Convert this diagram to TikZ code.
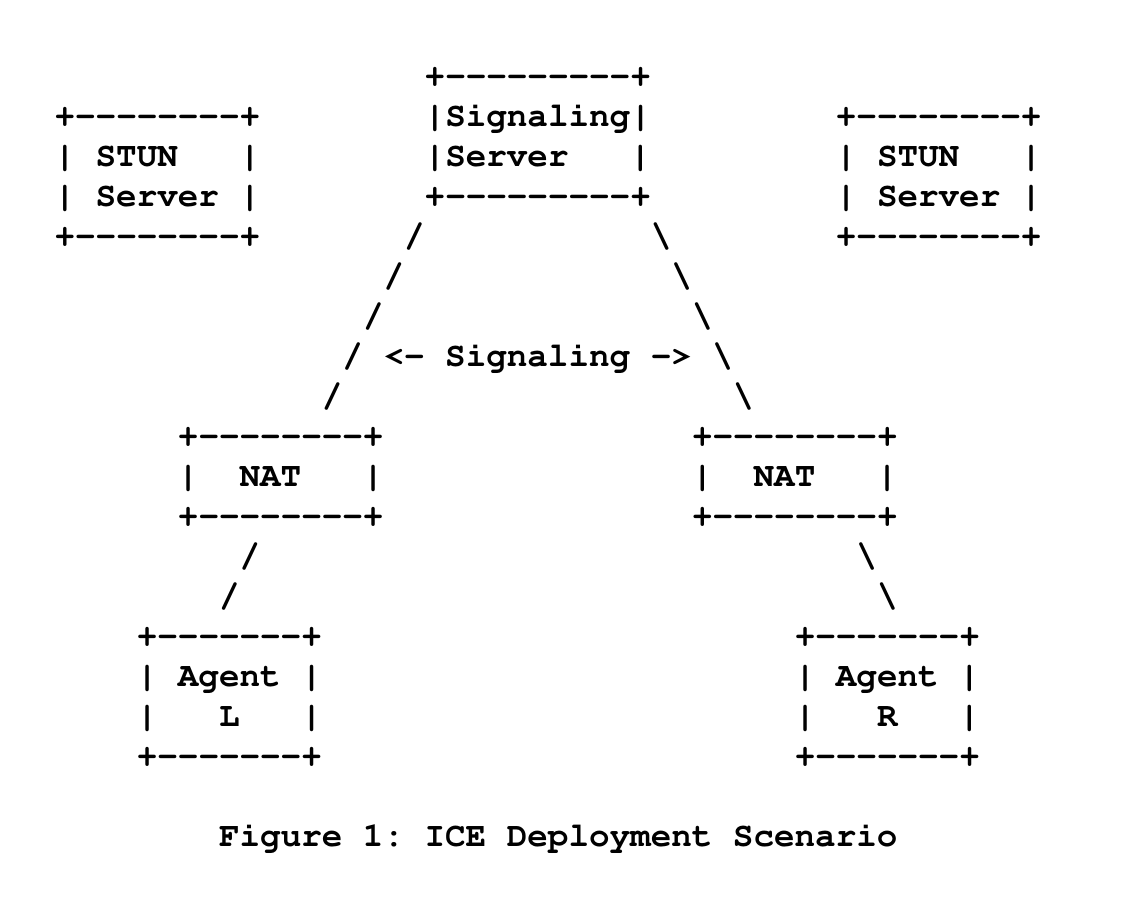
\documentclass[tikz,border=0pt]{standalone}
\usepackage{tikz}
\usetikzlibrary{positioning}
\newcommand{\asciifont}{\fontencoding{T1}\fontfamily{pcr}\fontseries{b}\fontsize{17.13pt}{20pt}\selectfont}
\newcommand{\boxedge}[1]{+\foreach\k in {1,...,#1}{-}+}

\begin{document}
\begin{tikzpicture}[x=10.28pt,y=-20pt,
    ascii/.style={font=\asciifont,inner sep=0pt,anchor=base west,align=left}]
  \path[use as bounding box,fill=white] (-2.636,-2.1625) rectangle (52.03,20.79);
  % servers (a box node sits on its last row)
  \node[ascii] (stunL) at (0,4) {\boxedge{8}\\|~STUN~~~|\\|~Server~|\\\boxedge{8}};
  \node[ascii] (signal) at (18,3) {\boxedge{9}\\|Signaling|\\|Server~~~|\\\boxedge{9}};
  \node[ascii] (stunR) at (38,4) {\boxedge{8}\\|~STUN~~~|\\|~Server~|\\\boxedge{8}};
  % NATs
  \node[ascii] (natL) at (6,11) {\boxedge{8}\\|~~NAT~~~|\\\boxedge{8}};
  \node[ascii] (natR) at (31,11) {\boxedge{8}\\|~~NAT~~~|\\\boxedge{8}};
  % agents
  \node[ascii] (agentL) at (4,17) {\boxedge{7}\\|~Agent~|\\|~~~L~~~|\\\boxedge{7}};
  \node[ascii] (agentR) at (36,17) {\boxedge{7}\\|~Agent~|\\|~~~R~~~|\\\boxedge{7}};
  % signaling paths
  \foreach \r/\c in {4/17,5/16,6/15,8/13}
    \node[ascii] (sigl\r) at (\c,\r) {/};
  \foreach \r/\c in {4/29,5/30,6/31,8/33}
    \node[ascii] (sigr\r) at (\c,\r) {\textbackslash};
  \node[ascii] (siglabel) at (14,7) {/~<-~Signaling~->~\textbackslash};
  % access paths
  \foreach \r/\c in {12/9,13/8}
    \node[ascii] (accl\r) at (\c,\r) {/};
  \foreach \r/\c in {12/39,13/40}
    \node[ascii] (accr\r) at (\c,\r) {\textbackslash};
  \node[ascii] (caption) at (8,19) {Figure~1:~ICE~Deployment~Scenario};
\end{tikzpicture}
\end{document}
